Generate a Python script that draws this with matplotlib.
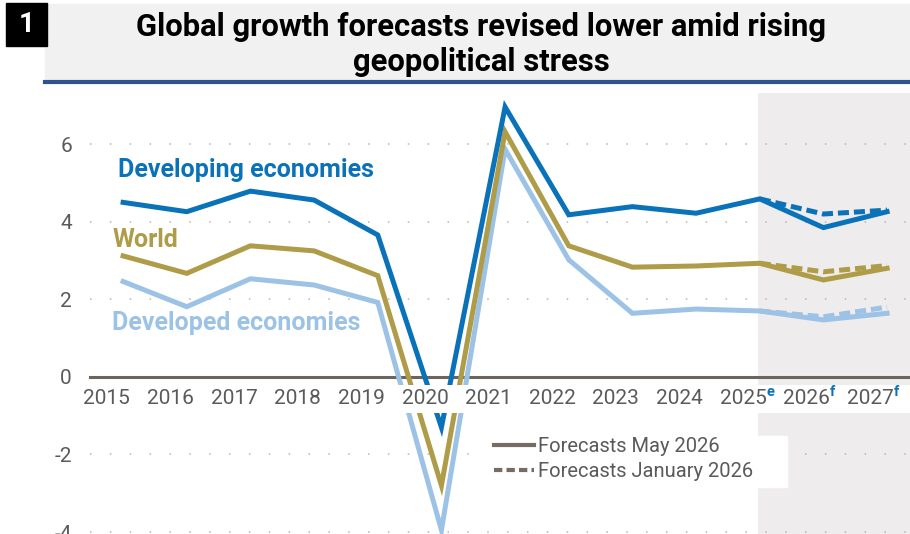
import numpy as np
import matplotlib.pyplot as plt
from matplotlib.patches import Rectangle
from matplotlib.lines import Line2D

# -----------------------------------------------------------
# GDP growth, % (actual, estimate and forecasts)
years = ["2015", "2016", "2017", "2018", "2019", "2020", "2021",
         "2022", "2023", "2024", "2025", "2026", "2027"]
developing = [4.5, 4.26, 4.79, 4.56, 3.66, -1.3, 6.96,
              4.18, 4.39, 4.22, 4.59, 3.85, 4.26]
world = [3.12, 2.67, 3.38, 3.25, 2.61, -2.8, 6.32,
         3.38, 2.83, 2.86, 2.93, 2.5, 2.8]
developed = [2.46, 1.81, 2.53, 2.37, 1.92, -3.95, 5.87,
             3.02, 1.64, 1.75, 1.7, 1.47, 1.64]

# January 2026 forecasts (2025 to 2027)
jan_years = ["2025", "2026", "2027"]
developing_jan = [4.59, 4.2, 4.3]
world_jan = [2.93, 2.71, 2.87]
developed_jan = [1.7, 1.55, 1.8]

year_marks = {"2025": "e", "2026": "f", "2027": "f"}
# -----------------------------------------------------------

plt.rcParams['font.family'] = ['Roboto', 'DejaVu Sans']
plt.rcParams['axes.unicode_minus'] = False

c_dev = '#0a72b8'
c_world = '#ae9c48'
c_devd = '#9cc2e5'
c_text = '#5a5a5a'
c_legend = '#766c64'

fig = plt.figure(figsize=(9.1, 5.34), dpi=100)
W, H = 910, 534

# title banner
fig.patches.append(Rectangle((45 / W, 1 - 80 / H), 1 - 45 / W, 76 / H,
                             transform=fig.transFigure, color='#f1f1f1', zorder=0))
fig.lines.append(Line2D([45 / W, 1], [1 - 82 / H] * 2, transform=fig.transFigure,
                        color='#2d5291', lw=3.0))
fig.patches.append(Rectangle((6 / W, 1 - 46 / H), 41 / W, 43 / H,
                             transform=fig.transFigure, color='black', zorder=1))
fig.text(26.5 / W, 1 - 24.5 / H, "1", color='white', fontsize=20, fontweight='bold',
         ha='center', va='center')
fig.text(481 / W, 1 - 27 / H, "Global growth forecasts revised lower amid rising",
         fontsize=22.3, fontweight='bold', ha='center', va='center', color='black')
fig.text(481 / W, 1 - 62 / H, "geopolitical stress",
         fontsize=22.3, fontweight='bold', ha='center', va='center', color='black')

ax = fig.add_axes([90 / W, 0, 1 - 90 / W, (H - 93) / H])
x = np.arange(len(years))
xj = np.array([years.index(y) for y in jan_years])

ax.set_xlim(-0.52, 12.36)
ax.set_ylim(-4.05, 7.32)

# forecast period shading
ax.axvspan(9.97, 12.36, color='#eeecec', lw=0, zorder=0)

# dotted gridlines
for v in [-4, -2, 2, 4, 6]:
    ax.axhline(v, color='#b5b5b5', lw=1.1, ls=(0, (1, 12)), zorder=0.5)

# lines
lw = 3.6
for vals, jan, c in [(developed, developed_jan, c_devd),
                     (world, world_jan, c_world),
                     (developing, developing_jan, c_dev)]:
    ax.plot(xj, jan, color=c, lw=lw, dashes=(2.2, 1.0), zorder=2)
    ax.plot(x, vals, color=c, lw=lw, solid_joinstyle='miter', zorder=2.1)

# white band holding the year labels
ax.axhspan(-0.93, -0.206, color='white', lw=0, zorder=3)

# axes styling
for s in ['top', 'right', 'left']:
    ax.spines[s].set_visible(False)
ax.spines['bottom'].set_position(('data', 0))
ax.spines['bottom'].set_color('#6d645e')
ax.spines['bottom'].set_linewidth(2.2)
ax.spines['bottom'].set_zorder(1.9)

ax.set_xticks(x - 0.26)
ax.set_xticklabels(years)
ax.set_yticks([-4, -2, 0, 2, 4, 6])
ax.tick_params(axis='x', length=0, pad=9, labelsize=15, labelcolor=c_text)
ax.tick_params(axis='y', length=0, pad=13, labelsize=15, labelcolor=c_text)
ax.xaxis.set_zorder(4)

# estimate / forecast marks next to the years
for yr, m in year_marks.items():
    ax.text(years.index(yr) + 0.1, -0.4, m, color=c_dev, fontsize=10.5,
            fontweight='bold', ha='left', va='center', zorder=5)

# series labels
ax.text(-0.08, 5.33, "Developing economies", color=c_dev, fontsize=18,
        fontweight='bold', ha='left', va='center')
ax.text(-0.17, 3.54, "World", color=c_world, fontsize=18,
        fontweight='bold', ha='left', va='center')
ax.text(-0.17, 1.38, "Developed economies", color=c_devd, fontsize=18,
        fontweight='bold', ha='left', va='center')

# legend on a white panel
ax.add_patch(Rectangle((484 / W, 1 - 487 / H), 303 / W, 51 / H,
                       transform=fig.transFigure, color='white', zorder=5,
                       clip_on=False))
handles = [Line2D([], [], color=c_legend, lw=3),
           Line2D([], [], color=c_legend, lw=3, dashes=(2, 1))]
leg = ax.legend(handles, ["Forecasts May 2026", "Forecasts January 2026"],
                loc='upper left', bbox_to_anchor=((494 - 90) / 820, (534 - 437) / 441),
                frameon=False, fontsize=14.5, labelcolor=c_text,
                handlelength=2.0, handletextpad=0.2, labelspacing=0.3,
                borderpad=0.0, borderaxespad=0)
leg.set_zorder(6)

plt.savefig("out.png", dpi=100)
